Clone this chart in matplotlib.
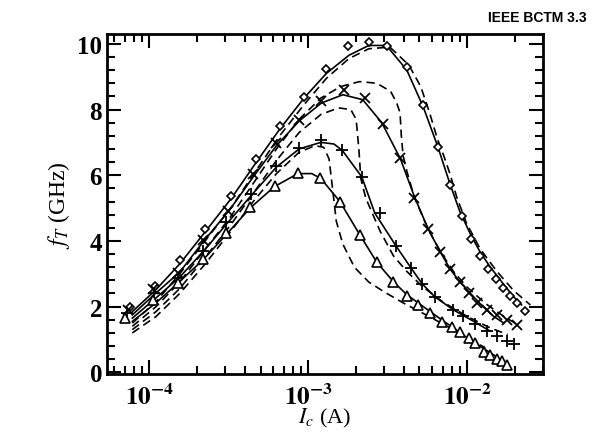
import matplotlib
matplotlib.use("Agg")
import matplotlib.pyplot as plt
from matplotlib.ticker import MultipleLocator, LogLocator, NullFormatter

plt.rcParams['mathtext.fontset'] = 'stix'
plt.rcParams['font.family'] = 'Liberation Serif'

# measured points (Ic in A, fT in GHz)
ic_dia = [7.5e-5, 1.09e-4, 1.55e-4, 2.22e-4, 3.28e-4, 4.71e-4, 6.6e-4, 9.4e-4, 1.3e-3,
          1.78e-3, 2.42e-3, 3.14e-3, 4.17e-3, 5.26e-3, 6.53e-3, 7.81e-3, 9.26e-3, 1.06e-2,
          1.21e-2, 1.36e-2, 1.52e-2, 1.69e-2, 1.87e-2, 2.07e-2, 2.3e-2]
ft_dia = [2.0, 2.64, 3.41, 4.36, 5.38, 6.5, 7.5, 8.37, 9.22, 9.93, 10.05, 9.93, 9.28, 8.13,
          6.87, 5.71, 4.77, 4.06, 3.54, 3.15, 2.83, 2.57, 2.33, 2.1, 1.88]

ic_x = [7.3e-5, 1.05e-4, 1.51e-4, 2.17e-4, 3.12e-4, 4.49e-4, 6.3e-4, 8.75e-4, 1.21e-3,
        1.68e-3, 2.27e-3, 2.94e-3, 3.78e-3, 4.65e-3, 5.7e-3, 6.76e-3, 7.81e-3, 9.04e-3,
        1.02e-2, 1.15e-2, 1.33e-2, 1.55e-2, 1.79e-2, 2.06e-2]
ft_x = [1.9, 2.54, 3.02, 4.04, 4.9, 6.03, 6.98, 7.69, 8.25, 8.59, 8.34, 7.57, 6.51, 5.31,
        4.36, 3.67, 3.15, 2.76, 2.4, 2.12, 1.9, 1.75, 1.59, 1.43]

ic_plus = [7.2e-5, 1.07e-4, 1.51e-4, 2.17e-4, 3.05e-4, 4.38e-4, 6.3e-4, 8.75e-4, 1.2e-3,
           1.64e-3, 2.17e-3, 2.83e-3, 3.55e-3, 4.42e-3, 5.22e-3, 6.28e-3, 8.2e-3, 9.48e-3,
           1.12e-2, 1.33e-2, 1.54e-2, 1.78e-2, 1.96e-2]
ft_plus = [1.8, 2.4, 2.88, 3.7, 4.59, 5.43, 6.27, 6.82, 7.06, 6.78, 5.95, 4.84, 3.86, 3.17,
           2.69, 2.3, 1.9, 1.7, 1.48, 1.27, 1.11, 0.95, 0.85]

ic_tri = [7.06e-5, 1.05e-4, 1.51e-4, 2.17e-4, 3.05e-4, 4.27e-4, 6.15e-4, 8.62e-4, 1.18e-3,
          1.58e-3, 2.11e-3, 2.69e-3, 3.43e-3, 4.17e-3, 4.93e-3, 5.84e-3, 6.92e-3, 8.0e-3,
          9.04e-3, 1.02e-2, 1.12e-2, 1.27e-2, 1.4e-2, 1.54e-2, 1.65e-2, 1.78e-2]
ft_tri = [1.65, 2.2, 2.73, 3.46, 4.24, 5.04, 5.68, 6.08, 5.93, 5.19, 4.19, 3.36, 2.76, 2.33,
          2.06, 1.8, 1.53, 1.37, 1.22, 1.06, 0.9, 0.63, 0.53, 0.42, 0.33, 0.23]

# solid model curves
ic_dia_s = [7.8e-5, 1.09e-4, 1.55e-4, 2.22e-4, 3.28e-4, 4.71e-4, 6.6e-4, 9.4e-4, 1.3e-3,
            1.8e-3, 2.4e-3, 3.1e-3, 4.17e-3, 5.3e-3, 6.5e-3, 7.8e-3, 9.0e-3, 1.05e-2,
            1.21e-2, 1.4e-2, 1.69e-2, 1.96e-2, 2.2e-2]
ft_dia_s = [1.85, 2.5, 3.3, 4.25, 5.3, 6.4, 7.4, 8.35, 9.1, 9.65, 9.95, 9.95, 9.2, 8.07,
            6.9, 5.73, 4.89, 4.2, 3.65, 3.2, 2.69, 2.3, 2.05]

ic_x_s = [7.8e-5, 1.09e-4, 1.55e-4, 2.2e-4, 3.2e-4, 4.5e-4, 6.3e-4, 8.75e-4, 1.21e-3,
          1.65e-3, 2.2e-3, 2.9e-3, 3.8e-3, 4.65e-3, 5.7e-3, 6.8e-3, 7.8e-3, 9.0e-3,
          1.05e-2, 1.2e-2, 1.47e-2, 1.7e-2]
ft_x_s = [1.75, 2.4, 3.05, 4.0, 4.95, 5.95, 6.9, 7.65, 8.2, 8.45, 8.3, 7.6, 6.5, 5.35,
          4.35, 3.65, 3.15, 2.75, 2.4, 2.1, 1.7, 1.5]

ic_plus_s = [7.8e-5, 1.09e-4, 1.55e-4, 2.2e-4, 3.1e-4, 4.4e-4, 6.3e-4, 8.75e-4, 1.2e-3,
             1.45e-3, 1.64e-3, 2.17e-3, 2.62e-3, 3.55e-3, 4.44e-3, 5.22e-3, 6.25e-3,
             8.2e-3, 1.1e-2, 1.4e-2]
ft_plus_s = [1.65, 2.25, 2.9, 3.7, 4.55, 5.4, 6.25, 6.8, 7.0, 6.95, 6.75, 5.95, 4.85, 3.86,
             3.17, 2.69, 2.3, 1.9, 1.55, 1.25]

ic_tri_s = [7.8e-5, 1.09e-4, 1.5e-4, 2.2e-4, 3.05e-4, 4.3e-4, 6.1e-4, 8.6e-4, 1.05e-3,
            1.2e-3, 1.58e-3, 2.1e-3, 2.7e-3, 3.43e-3, 4.2e-3, 5.3e-3, 6.9e-3, 8.5e-3,
            1.0e-2, 1.2e-2, 1.5e-2]
ft_tri_s = [1.55, 2.1, 2.7, 3.45, 4.2, 5.0, 5.65, 6.05, 6.05, 5.9, 5.2, 4.2, 3.35, 2.76,
            2.35, 2.0, 1.6, 1.3, 1.05, 0.8, 0.5]

# dashed model curves
ic_dia_d = [7.8e-5, 1.1e-4, 1.55e-4, 2.2e-4, 3.3e-4, 4.7e-4, 6.6e-4, 9.4e-4, 1.3e-3, 1.8e-3,
            2.4e-3, 3.26e-3, 4.3e-3, 5.1e-3, 5.8e-3, 6.5e-3, 7.1e-3, 7.81e-3, 8.6e-3,
            9.9e-3, 1.21e-2, 1.54e-2, 1.96e-2, 2.5e-2]
ft_dia_d = [1.5, 2.15, 3.0, 3.95, 5.05, 6.15, 7.2, 8.15, 8.95, 9.55, 9.85, 9.9, 9.35, 8.7,
            7.9, 7.1, 6.61, 6.03, 5.33, 4.54, 3.75, 3.07, 2.49, 2.05]

ic_x_d = [7.8e-5, 1.1e-4, 1.55e-4, 2.2e-4, 3.2e-4, 4.5e-4, 6.3e-4, 8.75e-4, 1.2e-3, 1.6e-3,
          2.1e-3, 2.7e-3, 3.3e-3, 3.6e-3, 3.78e-3, 3.85e-3, 3.95e-3, 4.17e-3, 4.65e-3,
          5.7e-3, 6.9e-3, 8.2e-3, 1.0e-2, 1.3e-2, 1.7e-2, 2.0e-2]
ft_x_d = [1.4, 2.0, 2.75, 3.7, 4.7, 5.75, 6.8, 7.7, 8.35, 8.7, 8.85, 8.8, 8.55, 8.2, 7.9,
          7.2, 6.6, 6.12, 5.33, 4.34, 3.62, 3.07, 2.59, 2.1, 1.7, 1.5]

ic_plus_d = [7.8e-5, 1.1e-4, 1.55e-4, 2.2e-4, 3.2e-4, 4.5e-4, 6.3e-4, 8.75e-4, 1.2e-3,
             1.55e-3, 1.85e-3, 2.0e-3, 2.08e-3, 2.14e-3, 2.3e-3, 2.83e-3, 3.43e-3, 4.17e-3,
             5.26e-3, 7.0e-3, 1.0e-2, 1.4e-2, 1.8e-2]
ft_plus_d = [1.3, 1.85, 2.55, 3.45, 4.45, 5.45, 6.45, 7.3, 7.85, 8.05, 8.0, 7.7, 6.8, 5.9,
             5.3, 4.3, 3.55, 3.07, 2.6, 2.15, 1.7, 1.35, 1.15]

ic_tri_d = [7.8e-5, 1.1e-4, 1.55e-4, 2.2e-4, 3.2e-4, 4.5e-4, 6.3e-4, 8.75e-4, 1.1e-3,
            1.25e-3, 1.35e-3, 1.42e-3, 1.5e-3, 1.65e-3, 1.95e-3, 2.4e-3, 3.0e-3, 4.0e-3,
            5.5e-3, 7.5e-3, 1.0e-2, 1.3e-2]
ft_tri_d = [1.2, 1.7, 2.4, 3.25, 4.25, 5.2, 6.05, 6.7, 6.9, 6.85, 6.5, 5.6, 4.6, 3.9, 3.2,
            2.75, 2.45, 2.1, 1.75, 1.4, 1.05, 0.75]

x_ticks = [1e-4, 1e-3, 1e-2]
x_ticklabels = [r'$\mathbf{10^{-4}}$', r'$\mathbf{10^{-3}}$', r'$\mathbf{10^{-2}}$']
y_ticks = [0, 2, 4, 6, 8, 10]

fig = plt.figure(figsize=(5.96, 4.35), dpi=100)
ax = fig.add_axes([0.1795, 0.138, 0.7315, 0.7816])

lw = 1.2
dash = (0, (5, 3))
for ic, ft in [(ic_dia_s, ft_dia_s), (ic_x_s, ft_x_s), (ic_plus_s, ft_plus_s), (ic_tri_s, ft_tri_s)]:
    ax.plot(ic, ft, color="black", linewidth=lw)
for ic, ft in [(ic_dia_d, ft_dia_d), (ic_x_d, ft_x_d), (ic_plus_d, ft_plus_d), (ic_tri_d, ft_tri_d)]:
    ax.plot(ic, ft, color="black", linewidth=lw, linestyle=dash)

ax.plot(ic_dia, ft_dia, linestyle="none", marker="D", markersize=4.5, markerfacecolor="white",
        markeredgecolor="black", markeredgewidth=1.2)
ax.plot(ic_x, ft_x, linestyle="none", marker="x", markersize=7, color="black", markeredgewidth=1.3)
ax.plot(ic_plus, ft_plus, linestyle="none", marker="+", markersize=8, color="black", markeredgewidth=1.3)
ax.plot(ic_tri, ft_tri, linestyle="none", marker="^", markersize=6.5, markerfacecolor="white",
        markeredgecolor="black", markeredgewidth=1.2)

ax.set_xscale("log")
ax.set_xlim(5.4e-5, 3.0e-2)
ax.set_ylim(-0.05, 10.3)

ax.set_xticks(x_ticks, labels=x_ticklabels)
ax.xaxis.set_minor_locator(LogLocator(base=10, subs=range(2, 10)))
ax.xaxis.set_minor_formatter(NullFormatter())
ax.set_yticks(y_ticks)
ax.set_yticklabels([str(v) for v in y_ticks], fontweight="bold")
ax.yaxis.set_minor_locator(MultipleLocator(0.4))

ax.tick_params(which="both", direction="in", top=True, right=True, width=1.5, labelsize=18)
ax.tick_params(which="major", length=10)
ax.tick_params(which="minor", length=6)
ax.tick_params(axis="x", which="major", pad=7)
for s in ax.spines.values():
    s.set_linewidth(2)

ax.set_xlabel(r"$I_c$ (A)", fontsize=16, labelpad=-2)
ax.set_ylabel(r"$f_T$ (GHz)", fontsize=17, labelpad=4)

fig.text(0.985, 0.975, "IEEE BCTM 3.3", family="Liberation Sans", fontweight="bold",
         fontsize=10, ha="right", va="top")

fig.savefig("out.png", dpi=100)
